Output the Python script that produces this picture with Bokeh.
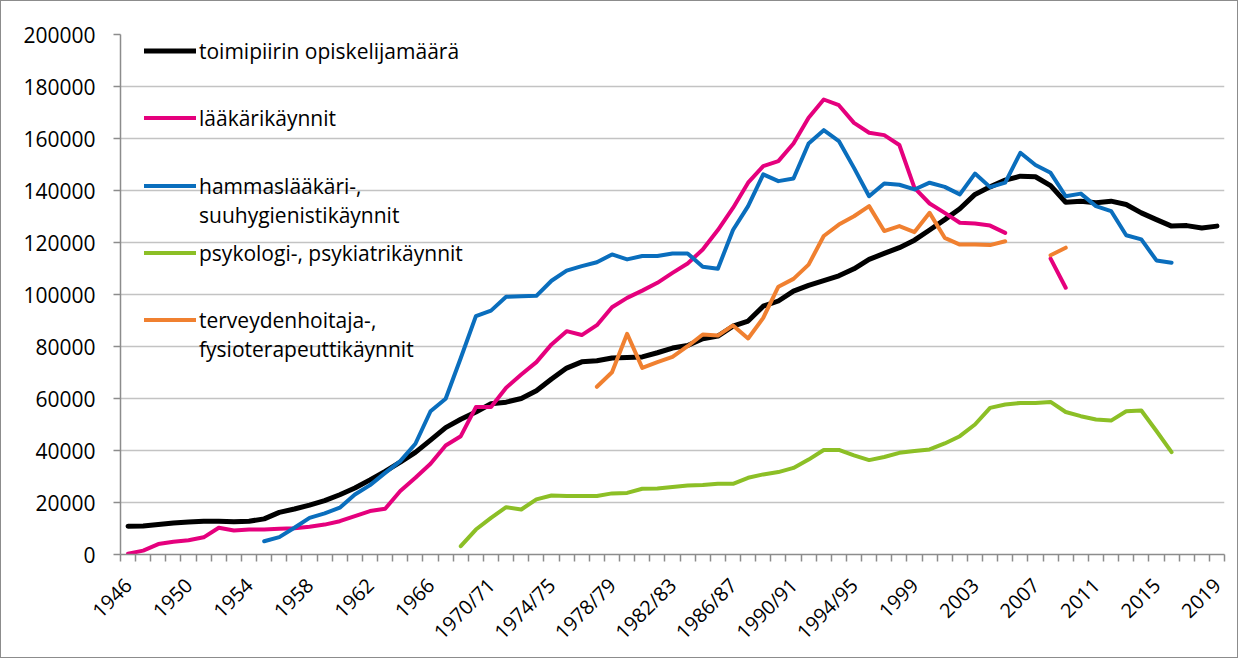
import math
from bokeh.plotting import figure
from bokeh.models import Range1d, FixedTicker, NumeralTickFormatter, Legend, LegendItem
from bokeh.embed import file_html
from bokeh.resources import INLINE

N = None

categories = [
    "1946", "1947", "1948", "1949", "1950", "1951", "1952", "1953", "1954", "1955",
    "1956", "1957", "1958", "1959", "1960", "1961", "1962", "1963", "1964", "1965",
    "1966", "1967", "1968", "1969",
    "1970/71", "1971/72", "1972/73", "1973/74", "1974/75", "1975/76", "1976/77", "1977/78",
    "1978/79", "1979/80", "1980/81", "1981/82", "1982/83", "1983/84", "1984/85", "1985/86",
    "1986/87", "1987/88", "1988/89", "1989/90", "1990/91", "1991/92", "1992/93", "1993/94",
    "1994/95", "1996", "1997", "1998",
    "1999", "2000", "2001", "2002", "2003", "2004", "2005", "2006", "2007", "2008",
    "2009", "2010", "2011", "2012", "2013", "2014", "2015", "2016", "2017", "2018", "2019",
]

opiskelijat = [
    10900, 11000, 11500, 12100, 12500, 12800, 12800, 12600, 12800, 13700,
    16200, 17500, 19000, 20700, 23000, 25600, 28700, 32000, 35500, 39300,
    44000, 48800, 52000, 54800, 58000, 58600, 60000, 63000, 67500, 71700,
    74100, 74500, 75600, 75800, 76000, 77600, 79400, 80400, 83000, 84000,
    87800, 89800, 95500, 97500, 101300, 103500, 105300, 107200, 109900, 113500,
    115800, 118000, 120900, 124800, 128800, 133000, 138500, 141400, 144000, 145500,
    145300, 141900, 135500, 135900, 135300, 135900, 134600, 131400, 128800, 126300,
    126500, 125600, 126300,
]

laakari = [
    300, 1500, 4000, 4900, 5500, 6600, 10300, 9200, 9600, 9600,
    9900, 10100, 10700, 11500, 12800, 14800, 16700, 17600, 24400, 29500,
    34900, 41900, 45500, 56700, 56700, 64100, 69200, 74000, 80800, 85900,
    84400, 88200, 95100, 98700, 101500, 104500, 108300, 111900, 117300, 124800,
    133300, 143000, 149400, 151300, 158100, 168000, 175000, 172800, 166000, 162200,
    161300, 157500, 141000, 135000, 131400, 127600, 127300, 126500, 123700, N,
    N, 113800, 102600, N, N, N, N, N, N, N,
    N, N, N,
]

hammas = [
    N, N, N, N, N, N, N, N, N, 5100,
    6700, 10300, 14100, 15800, 18000, 23100, 26700, 31400, 35900, 42600,
    55100, 59900, 75600, 91700, 93800, 99100, 99300, 99500, 105300, 109200,
    110900, 112400, 115400, 113500, 114800, 114800, 115800, 115800, 110700, 109900,
    124800, 134000, 146200, 143600, 144600, 158100, 163200, 159000, 148700, 137800,
    142700, 142200, 140400, 143000, 141400, 138500, 146500, 141300, 143000, 154500,
    149800, 146800, 137800, 138800, 134000, 132100, 122800, 121200, 113100, 112200,
    N, N, N,
]

psykologi = [
    N, N, N, N, N, N, N, N, N, N,
    N, N, N, N, N, N, N, N, N, N,
    N, N, 3200, 9600, 14100, 18200, 17300, 21200, 22700, 22500,
    22500, 22500, 23500, 23700, 25300, 25400, 26000, 26500, 26700, 27200,
    27200, 29500, 30800, 31700, 33300, 36500, 40200, 40200, 38100, 36300,
    37500, 39100, 39800, 40400, 42700, 45500, 50000, 56400, 57700, 58300,
    58300, 58700, 54800, 53200, 51900, 51500, 55100, 55400, 47500, 39400,
    N, N, N,
]

terveydenhoitaja = [
    N, N, N, N, N, N, N, N, N, N,
    N, N, N, N, N, N, N, N, N, N,
    N, N, N, N, N, N, N, N, N, N,
    N, 64500, 70100, 84900, 71800, 74000, 76000, 80100, 84600, 84200,
    88100, 83100, 91000, 103000, 106000, 111500, 122500, 126900, 130100, 134000,
    124400, 126300, 124000, 131400, 121800, 119200, 119200, 119000, 120500, N,
    N, 115100, 118000, N, N, N, N, N, N, N,
    N, N, N,
]

y_ticks = [0, 20000, 40000, 60000, 80000, 100000, 120000, 140000, 160000, 180000, 200000]

FONT = "Open Sans"
FS = "21px"


def nanify(vals):
    return [float("nan") if v is None else v for v in vals]


xs = list(range(len(categories)))

p = figure(
    width=1238, height=658,
    output_backend="svg", toolbar_location=None,
    x_range=Range1d(-0.5, len(categories) - 0.5),
    y_range=Range1d(0, 200000),
    min_border_left=119, min_border_right=15, min_border_top=33, min_border_bottom=105,
    styles={"border": "1px solid #8c8c8c"},
)
p.outline_line_color = None
p.background_fill_color = "white"
p.border_fill_color = "white"

# grid
p.xgrid.grid_line_color = None
p.ygrid.grid_line_color = "#C3C3C3"
p.ygrid.grid_line_width = 1.5

# y axis
ya = p.yaxis[0]
ya.ticker = FixedTicker(ticks=y_ticks)
ya.formatter = NumeralTickFormatter(format="0")
ya.major_tick_out = 7
ya.major_tick_in = 0
ya.minor_tick_out = 0
ya.minor_tick_in = 0
ya.major_tick_line_color = "#8c8c8c"
ya.major_tick_line_width = 1.5
ya.axis_line_color = "#8c8c8c"
ya.axis_line_width = 1.5
ya.major_label_standoff = 18
ya.major_label_text_font = FONT
ya.major_label_text_font_size = FS
ya.major_label_text_color = "black"

# x axis
xa = p.xaxis[0]
label_idx = list(range(0, len(categories), 4))
xa.ticker = FixedTicker(ticks=label_idx, minor_ticks=[i - 0.5 for i in range(len(categories) + 1)])
xa.major_label_overrides = {i: categories[i] for i in label_idx}
xa.major_tick_out = 0
xa.major_tick_in = 0
xa.minor_tick_out = 7
xa.minor_tick_in = 0
xa.minor_tick_line_color = "#8c8c8c"
xa.minor_tick_line_width = 1.5
xa.axis_line_color = "#8c8c8c"
xa.axis_line_width = 1.5
xa.major_label_orientation = math.pi / 4
xa.major_label_standoff = 20
xa.major_label_text_font = FONT
xa.major_label_text_font_size = "20px"
xa.major_label_text_color = "black"

series = [
    ("toimipiirin opiskelijamäärä", opiskelijat, "#000000", 5),
    ("lääkärikäynnit", laakari, "#E5007D", 4),
    ("hammaslääkäri-,", hammas, "#0A6EBD", 4),
    ("psykologi-, psykiatrikäynnit", psykologi, "#8CBF26", 4),
    ("terveydenhoitaja-,", terveydenhoitaja, "#F08030", 4),
]

renderers = {}
for name, vals, color, w in series:
    r = p.line(xs, nanify(vals), line_color=color, line_width=w,
               line_join="round", line_cap="round")
    renderers[name] = r

dummy = p.line(x=[], y=[], line_alpha=0)


def add_legend(items, loc):
    lg = Legend(
        items=items, location=loc, orientation="vertical",
        padding=0, margin=0, spacing=0,
        glyph_width=52, glyph_height=29, label_height=29, label_standoff=3,
        label_text_font=FONT, label_text_font_size=FS, label_text_color="black",
        border_line_alpha=0, background_fill_alpha=0,
    )
    p.add_layout(lg, "center")


add_legend([LegendItem(label="toimipiirin opiskelijamäärä", renderers=[renderers["toimipiirin opiskelijamäärä"]])], (24, 489))
add_legend([LegendItem(label="lääkärikäynnit", renderers=[renderers["lääkärikäynnit"]])], (24, 422))
add_legend([LegendItem(label="hammaslääkäri-,", renderers=[renderers["hammaslääkäri-,"]]),
            LegendItem(label="suuhygienistikäynnit", renderers=[dummy])], (24, 325))
add_legend([LegendItem(label="psykologi-, psykiatrikäynnit", renderers=[renderers["psykologi-, psykiatrikäynnit"]])], (24, 287))
add_legend([LegendItem(label="terveydenhoitaja-,", renderers=[renderers["terveydenhoitaja-,"]]),
            LegendItem(label="fysioterapeuttikäynnit", renderers=[dummy])], (24, 191))

open("out.html", "w").write(file_html(p, INLINE))
